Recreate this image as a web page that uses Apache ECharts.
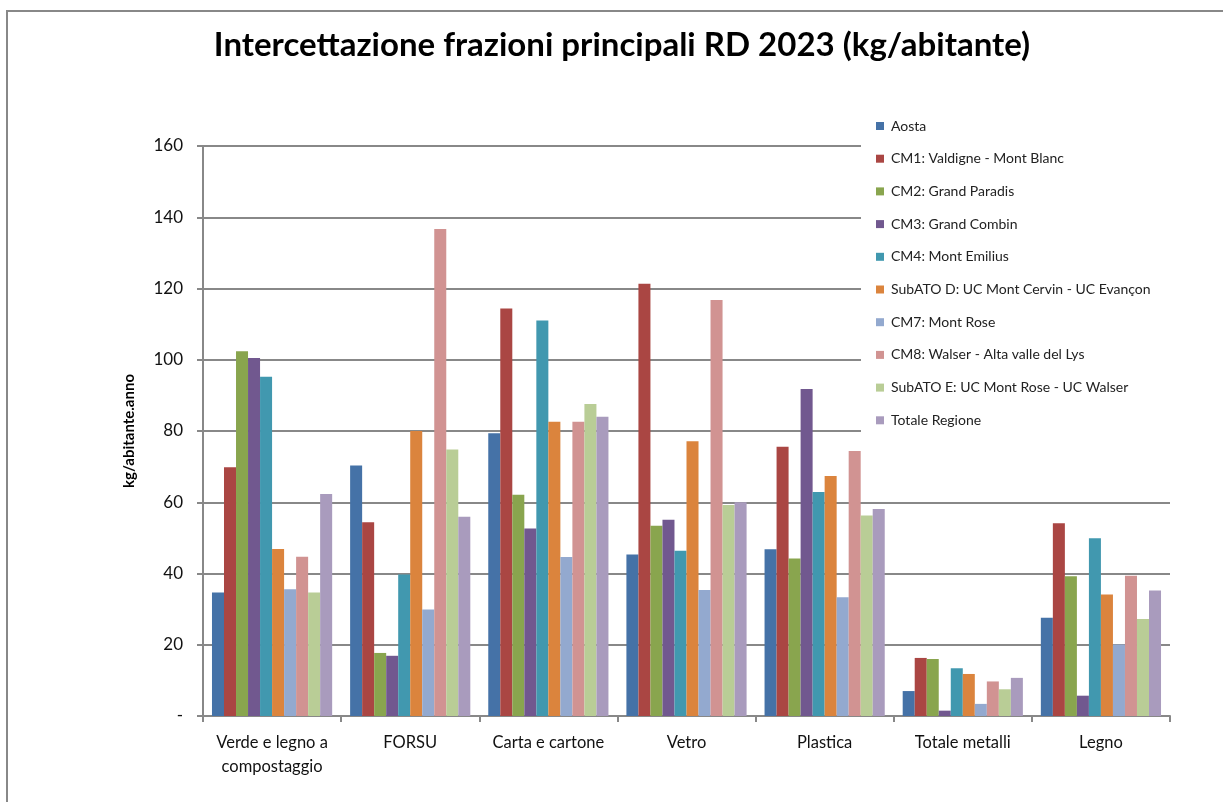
<!DOCTYPE html>
<html>
<head>
<meta charset="utf-8">
<title>Intercettazione frazioni principali RD 2023</title>
<script src="https://cdn.jsdelivr.net/npm/echarts@6/dist/echarts.min.js"></script>
<style>
  html, body { margin: 0; padding: 0; background: #fff; }
  #chart { width: 1223px; height: 802px; }
</style>
</head>
<body>
<div id="chart"></div>
<script>
// categorie (frazioni)
var categories = ["Verde e legno a\ncompostaggio", "FORSU", "Carta e cartone", "Vetro", "Plastica", "Totale metalli", "Legno"];

// kg/abitante.anno per ogni ambito
var aosta     = [34.7, 70.3, 79.4, 45.3, 46.8, 7.0, 27.6];
var cm1       = [69.8, 54.4, 114.4, 121.3, 75.6, 16.3, 54.1];
var cm2       = [102.4, 17.7, 62.1, 53.4, 44.2, 16.0, 39.2];
var cm3       = [100.5, 16.9, 52.6, 55.1, 91.8, 1.5, 5.7];
var cm4       = [95.2, 39.7, 111.0, 46.4, 62.9, 13.4, 49.9];
var subatoD   = [46.9, 80.0, 82.6, 77.1, 67.4, 11.8, 34.1];
var cm7       = [35.6, 29.9, 44.6, 35.4, 33.3, 3.4, 20.1];
var cm8       = [44.7, 136.7, 82.6, 116.8, 74.4, 9.7, 39.4];
var subatoE   = [34.7, 74.8, 87.6, 59.2, 56.3, 7.5, 27.2];
var totale    = [62.3, 55.9, 84.0, 60.0, 58.1, 10.7, 35.2];

var seriesNames = [
  "Aosta",
  "CM1: Valdigne - Mont Blanc",
  "CM2: Grand Paradis",
  "CM3: Grand Combin",
  "CM4: Mont Emilius",
  "SubATO D: UC Mont Cervin - UC Evançon",
  "CM7: Mont Rose",
  "CM8: Walser - Alta valle del Lys",
  "SubATO E: UC Mont Rose - UC Walser",
  "Totale Regione"
];
var seriesData = [aosta, cm1, cm2, cm3, cm4, subatoD, cm7, cm8, subatoE, totale];
var colors = ["#4572A7", "#AA4643", "#89A54E", "#71588F", "#4198AF", "#DB843D", "#93A9CF", "#D19392", "#B9CD96", "#A99BBD"];

var font = "Lato, 'Open Sans', sans-serif";

var chart = echarts.init(document.getElementById("chart"));

var series = seriesNames.map(function (name, i) {
  return {
    name: name,
    type: "bar",
    data: seriesData[i],
    barGap: "0%",
    barCategoryGap: "13%",
    itemStyle: { color: colors[i] }
  };
});

chart.setOption({
  animation: false,
  backgroundColor: "#fff",
  color: colors,
  title: {
    text: "Intercettazione frazioni principali RD 2023 (kg/abitante)",
    left: 617,
    textAlign: "center",
    top: 24,
    textStyle: { fontFamily: font, fontSize: 33, fontWeight: "bold", color: "#000" }
  },
  graphic: [{
    type: "rect",
    shape: { x: 7, y: 11, width: 1240, height: 820 },
    style: { fill: null, stroke: "#888", lineWidth: 2 },
    silent: true
  }],
  legend: {
    orient: "vertical",
    left: 861,
    top: 111,
    padding: [8, 20, 6, 15],
    backgroundColor: "#fff",
    itemWidth: 8,
    itemHeight: 8,
    itemGap: 18.7,
    icon: "rect",
    z: 10,
    textStyle: { fontFamily: font, fontSize: 14, color: "#222", padding: [0, 0, 0, 2] },
    data: seriesNames
  },
  grid: { left: 203, right: 53, top: 146, bottom: 86 },
  xAxis: {
    type: "category",
    data: categories,
    axisLine: { lineStyle: { color: "#888", width: 2 } },
    axisTick: { show: true, length: 6, lineStyle: { color: "#888", width: 2 } },
    axisLabel: { interval: 0, fontFamily: font, fontSize: 16.5, color: "#111", margin: 15, lineHeight: 24 }
  },
  yAxis: {
    type: "value",
    min: 0,
    max: 160,
    interval: 20,
    name: "kg/abitante.anno",
    nameLocation: "middle",
    nameGap: 66,
    nameTextStyle: { fontFamily: font, fontSize: 15, fontWeight: "bold", color: "#000" },
    axisLine: { show: true, lineStyle: { color: "#888", width: 2 } },
    axisTick: { show: true, length: 6, lineStyle: { color: "#888", width: 2 } },
    splitLine: { lineStyle: { color: "#888", width: 2 } },
    axisLabel: {
      fontFamily: font, fontSize: 17, color: "#111", margin: 20,
      formatter: function (v) { return v === 0 ? "-" : String(v); }
    }
  },
  series: series
});
</script>
</body>
</html>
